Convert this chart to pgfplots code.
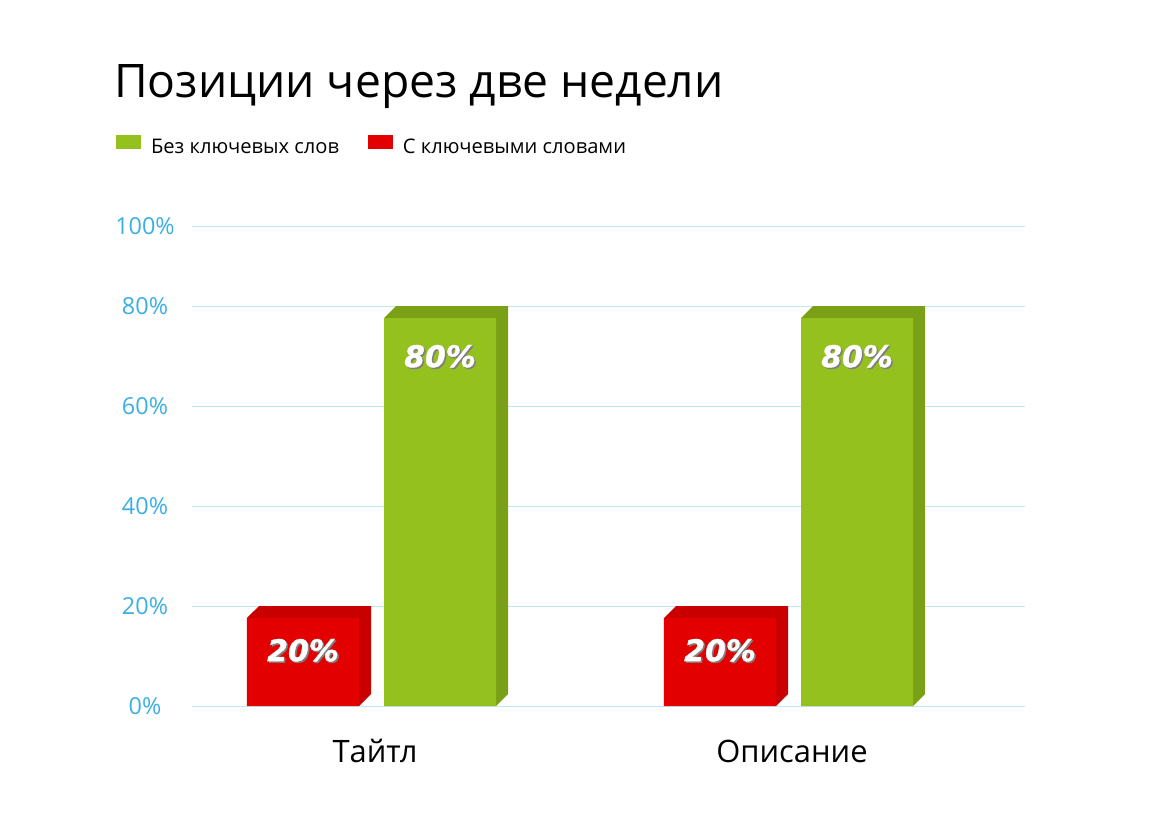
\documentclass[border=0pt]{standalone}
\usepackage{pgfplots}
\pgfplotsset{compat=1.18}
\usepackage{pgfplotstable}
\usepackage{fontspec}
\setmainfont{Open Sans}
\newfontfamily\lblfont{DejaVu Sans}[BoldItalicFeatures={FakeBold=1.2}]
\definecolor{greenfront}{RGB}{149,193,31}
\definecolor{greendark}{RGB}{122,160,24}
\definecolor{redfront}{RGB}{227,0,0}
\definecolor{reddark}{RGB}{200,0,0}
\definecolor{tickblue}{RGB}{58,175,228}
\definecolor{gridblue}{RGB}{195,230,247}
\newcommand\shadowtext[1]{\makebox[0pt][l]{\hspace{1.5bp}\raisebox{-1.5bp}{\color{black!50}#1}}{\color{white}#1}}
\pgfplotstableread{
cat red green
0 20 80
1 20 80
}\datatable
\begin{document}
\begin{tikzpicture}
\path[use as bounding box] (0bp,0bp) rectangle (1159bp,-824bp);
\node[anchor=base west, inner sep=0pt, font=\fontsize{46.4}{55}\selectfont] at (114bp,-97bp) {Позиции через две недели};
\begin{axis}[
  at={(192bp,-706bp)}, anchor=south west,
  scale only axis, width=833bp, height=480bp,
  xmin=-0.43885, xmax=1.55875, ymin=0, ymax=96,
  axis line style={draw=none}, major tick length=0pt, tick style={draw=none},
  xtick={0,1}, xticklabels={Тайтл,Описание},
  ytick={0,20,40,60,80,96}, yticklabels={0\%,20\%,40\%,60\%,80\%,100\%},
  ymajorgrids, grid style={gridblue, line width=1bp},
  yticklabel style={anchor=center, xshift=-47bp, inner sep=0pt, font=\fontsize{23.5}{28}\selectfont, text=tickblue},
  xticklabel style={anchor=base, yshift=-56bp, inner sep=0pt, font=\fontsize{31}{36}\selectfont},
  /pgf/number format/assume math mode=true,
  clip=false,
  legend columns=2,
  legend style={at={(-0.0912,1.16875)}, anchor=west, draw=none, fill=none, inner sep=0pt, outer sep=0pt,
    font=\fontsize{20.2}{24}\selectfont, nodes={inner sep=0pt},
    /tikz/every odd column/.append style={column sep=10bp},
    /tikz/every even column/.append style={column sep=29bp}},
  legend cell align=left,
  sqlegend/.style={legend image code/.code={\fill[##1] (0bp,-2bp) rectangle (25bp,12bp);}},
  every node near coord/.append style={anchor=center, yshift=-35bp, inner sep=0pt, font=\lblfont\bfseries\itshape\fontsize{30}{34}\selectfont},
]
% 3D faces (top and side)
\addplot[fill=reddark, draw=none, forget plot] coordinates {(-0.3070,17.6) (-0.2782,20) (-0.0096,20) (-0.0096,2.4) (-0.0384,0) (-0.0384,17.6)} -- cycle;
\addplot[fill=greendark, draw=none, forget plot] coordinates {(0.0216,77.6) (0.0504,80) (0.3190,80) (0.3190,2.4) (0.2902,0) (0.2902,77.6)} -- cycle;
\addplot[fill=reddark, draw=none, forget plot] coordinates {(0.6930,17.6) (0.7218,20) (0.9904,20) (0.9904,2.4) (0.9616,0) (0.9616,17.6)} -- cycle;
\addplot[fill=greendark, draw=none, forget plot] coordinates {(1.0216,77.6) (1.0504,80) (1.3190,80) (1.3190,2.4) (1.2902,0) (1.2902,77.6)} -- cycle;
% front faces
\addplot[ybar, bar width=0.2686, bar shift=0.1559, fill=greenfront, draw=none, sqlegend,
  point meta=explicit, nodes near coords={\shadowtext{\pgfmathprintnumber{\pgfplotspointmeta}\%}},
  every node near coord/.append style={xshift=65bp, yshift=-4bp}]
  table[x=cat, y expr=\thisrow{green}-2.4, meta=green] {\datatable};
\addlegendentry{Без ключевых слов}
\addplot[ybar, bar width=0.2686, bar shift=-0.1727, fill=redfront, draw=none, sqlegend,
  point meta=explicit, nodes near coords={\shadowtext{\pgfmathprintnumber{\pgfplotspointmeta}\%}},
  every node near coord/.append style={xshift=-72bp, yshift=2bp}]
  table[x=cat, y expr=\thisrow{red}-2.4, meta=red] {\datatable};
\addlegendentry{С ключевыми словами}
\end{axis}
\end{tikzpicture}
\end{document}
